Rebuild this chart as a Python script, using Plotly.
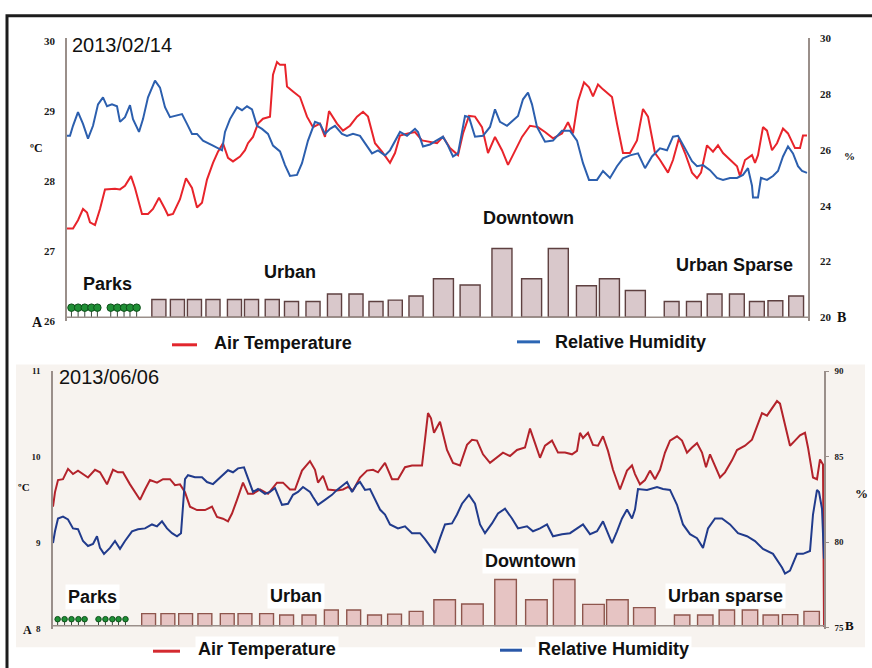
import plotly.graph_objects as go

# ---------------------------------------------------------------------------
# Mobile transect records: (elapsed seconds along the route, value)
# ---------------------------------------------------------------------------
FEB_AIR_TEMP = [
    (0, 27.32), (6, 27.32), (11, 27.44), (16, 27.60), (20, 27.55), (23, 27.41), (28, 27.37),
    (33, 27.60), (38, 27.88), (48, 27.89), (53, 27.88), (58, 27.93), (64, 28.07), (68, 27.90),
    (75, 27.53), (81, 27.53), (86, 27.60), (92, 27.76), (98, 27.60), (101, 27.51), (106, 27.53),
    (113, 27.74), (119, 28.04), (125, 27.90), (130, 27.62), (135, 27.69), (140, 28.02),
    (146, 28.26), (151, 28.42), (156, 28.54), (161, 28.33), (166, 28.28), (173, 28.35),
    (178, 28.44), (181, 28.54), (186, 28.63), (191, 28.82), (196, 28.89), (203, 28.92),
    (206, 29.52), (210, 29.70), (213, 29.66), (218, 29.66), (220, 29.35), (226, 29.28),
    (233, 29.20), (240, 28.92), (246, 28.77), (253, 28.82), (258, 28.63), (262, 29.00),
    (270, 28.82), (276, 28.72), (283, 28.79), (290, 28.92), (296, 28.99), (301, 28.92),
    (308, 28.54), (315, 28.42), (323, 28.26), (328, 28.40), (333, 28.65), (341, 28.68),
    (348, 28.70), (355, 28.58), (363, 28.56), (370, 28.54), (376, 28.63), (383, 28.47),
    (391, 28.37), (396, 28.68), (402, 28.93), (408, 28.92), (415, 28.77), (421, 28.40),
    (428, 28.63), (435, 28.44), (441, 28.23), (448, 28.44), (455, 28.63), (463, 28.79),
    (471, 28.77), (478, 28.70), (486, 28.61), (495, 28.68), (501, 28.84), (506, 28.68),
    (511, 29.14), (517, 29.41), (522, 29.34), (526, 29.21), (531, 29.38), (536, 29.31),
    (545, 29.20), (550, 28.82), (556, 28.40), (563, 28.40), (570, 28.58), (576, 29.03),
    (581, 28.92), (588, 28.40), (593, 28.30), (601, 28.12), (606, 28.30), (612, 28.61),
    (618, 28.40), (625, 28.12), (630, 28.04), (634, 28.12), (640, 28.51), (646, 28.42),
    (651, 28.51), (656, 28.40), (663, 28.30), (670, 28.21), (673, 28.07), (678, 28.30),
    (685, 28.37), (688, 28.26), (691, 28.37), (696, 28.77), (700, 28.72), (705, 28.44),
    (710, 28.54), (716, 28.75), (721, 28.68), (728, 28.47), (733, 28.47), (736, 28.65),
    (740, 28.65),
]

FEB_HUMIDITY = [
    (0, 26.51), (3, 26.51), (6, 26.87), (11, 27.36), (16, 26.94), (21, 26.41), (26, 26.87),
    (31, 27.64), (36, 27.89), (40, 27.57), (45, 27.64), (50, 27.57), (53, 27.01), (58, 27.18),
    (63, 27.61), (66, 27.11), (72, 26.65), (76, 27.11), (81, 27.89), (88, 28.49), (93, 28.24),
    (98, 27.54), (103, 27.18), (108, 27.22), (115, 27.29), (120, 26.94), (125, 26.58),
    (130, 26.58), (136, 26.34), (146, 26.16), (155, 25.99), (158, 26.65), (163, 27.11),
    (170, 27.54), (175, 27.43), (180, 27.57), (185, 27.46), (190, 26.87), (195, 26.76),
    (201, 26.58), (206, 26.16), (213, 25.95), (218, 25.46), (223, 25.07), (230, 25.11),
    (235, 25.53), (241, 26.34), (248, 27.01), (253, 26.94), (258, 26.58), (263, 26.76),
    (268, 26.87), (275, 26.58), (280, 26.51), (286, 26.58), (293, 26.51), (298, 26.23),
    (305, 25.88), (311, 25.99), (318, 25.81), (323, 25.99), (328, 26.34), (333, 26.65),
    (340, 26.51), (348, 26.76), (351, 26.65), (356, 26.13), (363, 26.20), (370, 26.34),
    (376, 26.48), (381, 26.16), (386, 25.77), (391, 25.88), (398, 27.22), (402, 27.18),
    (408, 26.48), (416, 26.51), (423, 26.83), (428, 27.46), (433, 27.01), (440, 26.87),
    (445, 27.04), (451, 27.22), (456, 27.82), (461, 28.06), (465, 27.64), (470, 26.83),
    (478, 26.30), (486, 26.34), (495, 26.69), (503, 26.69), (510, 26.34), (516, 25.53),
    (522, 24.93), (530, 24.93), (536, 25.25), (543, 25.00), (550, 25.42), (556, 25.70),
    (563, 25.81), (571, 25.88), (578, 25.35), (585, 25.77), (593, 26.06), (600, 25.99),
    (606, 26.48), (611, 26.51), (618, 26.06), (625, 25.60), (630, 25.42), (636, 25.46),
    (643, 25.28), (650, 25.00), (656, 24.93), (663, 25.00), (670, 25.00), (676, 25.11),
    (681, 25.35), (685, 24.72), (686, 24.30), (691, 24.30), (694, 25.00), (700, 24.93),
    (706, 25.07), (711, 25.25), (716, 25.77), (721, 26.13), (726, 25.88), (731, 25.42),
    (735, 25.25), (740, 25.18),
]

JUN_AIR_TEMP = [
    (0, 9.42), (2, 9.59), (5, 9.73), (10, 9.74), (15, 9.86), (20, 9.80), (25, 9.84), (30, 9.80),
    (35, 9.76), (42, 9.85), (47, 9.82), (54, 9.68), (60, 9.85), (65, 9.82), (70, 9.82),
    (77, 9.68), (82, 9.59), (87, 9.50), (92, 9.62), (97, 9.73), (104, 9.70), (110, 9.74),
    (117, 9.74), (122, 9.67), (127, 9.68), (132, 9.59), (137, 9.42), (144, 9.38), (152, 9.38),
    (159, 9.42), (164, 9.30), (170, 9.28), (175, 9.25), (179, 9.34), (184, 9.50), (190, 9.70),
    (195, 9.57), (200, 9.57), (207, 9.62), (215, 9.57), (224, 9.70), (230, 9.70), (237, 9.62),
    (242, 9.62), (249, 9.84), (257, 9.95), (262, 9.85), (265, 9.70), (270, 9.78), (275, 9.62),
    (284, 9.61), (290, 9.62), (295, 9.65), (300, 9.61), (307, 9.76), (314, 9.84), (320, 9.85),
    (325, 9.82), (332, 9.93), (339, 9.74), (345, 9.74), (352, 9.88), (359, 9.90), (369, 9.90),
    (372, 10.20), (375, 10.51), (378, 10.45), (381, 10.28), (387, 10.41), (394, 10.08),
    (400, 9.93), (407, 9.90), (414, 10.14), (419, 10.20), (424, 10.19), (430, 10.03),
    (437, 9.93), (444, 9.99), (450, 10.05), (457, 10.01), (464, 10.08), (472, 10.11),
    (477, 10.33), (482, 10.16), (487, 9.99), (492, 10.13), (499, 10.19), (505, 10.05),
    (512, 10.05), (519, 10.03), (524, 10.07), (527, 10.28), (530, 10.22), (535, 10.28),
    (540, 10.14), (545, 10.13), (550, 10.24), (555, 10.07), (560, 9.85), (567, 9.62),
    (574, 9.84), (579, 9.90), (582, 9.80), (587, 9.68), (592, 9.73), (597, 9.84), (602, 9.74),
    (607, 9.85), (612, 10.05), (617, 10.19), (624, 10.24), (629, 10.19), (634, 10.05),
    (639, 10.11), (644, 10.16), (649, 10.05), (653, 9.88), (657, 10.03), (662, 9.90),
    (667, 9.76), (672, 9.82), (679, 9.96), (684, 10.08), (692, 10.13), (699, 10.20),
    (704, 10.36), (709, 10.51), (714, 10.48), (719, 10.56), (724, 10.65), (727, 10.62),
    (732, 10.39), (737, 10.13), (742, 10.19), (747, 10.25), (752, 10.28), (755, 10.11),
    (760, 9.76), (764, 9.74), (767, 9.97), (770, 9.91), (771, 8.02),
]

JUN_HUMIDITY = [
    (0, 79.94), (2, 80.63), (5, 81.38), (10, 81.49), (15, 81.32), (20, 80.80), (25, 80.75),
    (30, 80.06), (35, 79.77), (40, 79.89), (44, 80.34), (47, 79.66), (51, 79.31), (57, 79.66),
    (62, 80.06), (67, 79.60), (72, 80.06), (79, 80.63), (85, 80.75), (92, 80.80), (99, 81.03),
    (104, 80.92), (109, 81.21), (114, 80.80), (119, 80.52), (124, 80.34), (128, 80.52),
    (132, 83.68), (135, 83.91), (142, 83.79), (149, 83.79), (154, 83.51), (160, 83.39),
    (165, 83.68), (170, 83.97), (175, 84.20), (180, 84.08), (185, 84.31), (191, 84.37),
    (197, 83.33), (200, 82.93), (205, 83.10), (212, 82.82), (217, 82.93), (222, 83.16),
    (229, 82.18), (235, 82.24), (240, 82.76), (245, 82.93), (250, 83.22), (257, 82.93),
    (260, 82.64), (265, 82.18), (272, 82.47), (279, 82.76), (284, 83.05), (290, 83.33),
    (294, 83.51), (299, 82.93), (304, 83.39), (307, 83.51), (312, 83.05), (317, 83.10),
    (322, 82.53), (327, 81.90), (332, 81.61), (337, 81.03), (345, 80.80), (352, 80.92),
    (359, 80.52), (367, 80.52), (372, 80.17), (377, 79.77), (382, 79.37), (387, 80.23),
    (392, 81.03), (399, 81.09), (404, 81.61), (409, 82.24), (416, 82.76), (422, 82.24),
    (427, 81.03), (432, 80.52), (439, 81.09), (445, 81.67), (452, 81.95), (459, 81.38),
    (465, 80.80), (474, 80.92), (480, 80.63), (487, 80.80), (494, 81.03), (500, 80.34),
    (509, 80.46), (517, 80.52), (524, 80.80), (530, 81.03), (537, 80.46), (544, 80.63),
    (550, 81.21), (555, 80.52), (559, 79.94), (564, 80.63), (569, 81.38), (574, 81.90),
    (579, 81.38), (582, 81.90), (585, 83.10), (594, 83.05), (604, 83.22), (610, 83.10),
    (617, 83.05), (624, 82.18), (630, 81.03), (637, 80.46), (644, 80.23), (650, 79.66),
    (655, 80.80), (662, 81.38), (669, 81.38), (677, 81.03), (685, 80.52), (694, 80.34),
    (702, 80.06), (710, 79.60), (720, 79.31), (729, 78.51), (732, 78.16), (737, 78.33),
    (744, 79.31), (750, 79.31), (757, 79.48), (760, 81.61), (764, 83.05), (766, 82.93),
    (769, 81.95), (771, 79.02),
]

# ---------------------------------------------------------------------------
# Land use along the route (position in % of route length, relative height)
# ---------------------------------------------------------------------------
PARK_TREE_POS = [0.6, 1.5, 2.4, 3.3, 4.1, 5.9, 6.8, 7.7, 8.5, 9.4]
PARK_TREE_HEIGHT = [14] * 10

URBAN_POS = [12.4, 14.9, 17.2, 19.7, 22.6, 24.9, 27.7, 30.3, 33.2, 36.1, 39.0, 41.7, 44.3, 47.1]
URBAN_HEIGHT = [26, 26, 26, 26, 26, 26, 26, 23, 23, 34, 34, 23, 25, 31]

DOWNTOWN_POS = [50.8, 54.4, 58.7, 62.7, 66.3, 70.1, 73.2, 76.7]
DOWNTOWN_HEIGHT = [56, 47, 100, 56, 100, 46, 56, 39]

SPARSE_POS = [81.6, 84.6, 87.4, 90.4, 93.1, 95.6, 98.4]
SPARSE_HEIGHT = [23, 23, 34, 34, 23, 24, 31]

FEB_T_TICKS = [26, 27, 28, 29, 30]
FEB_RH_TICKS = [20, 22, 24, 26, 28, 30]
FEB_RH_MINOR = [20, 22.5, 25, 27.5, 30]
JUN_T_TICKS = [8, 9, 10, 11]
JUN_RH_TICKS = [75, 80, 85, 90]

# ---------------------------------------------------------------------------
W, H = 872, 668


def px(x):
    return x / W


def py(y):
    return 1 - y / H


SANS = "Liberation Sans, Arial, sans-serif"
SERIF = "Liberation Serif, Times New Roman, serif"
AXIS_GREY = "#9a8f8a"

fig = go.Figure()

land_pos = URBAN_POS + DOWNTOWN_POS + SPARSE_POS
land_h = URBAN_HEIGHT + DOWNTOWN_HEIGHT + SPARSE_HEIGHT


def widths(u, d, s):
    return [u] * len(URBAN_POS) + [d] * len(DOWNTOWN_POS) + [s] * len(SPARSE_POS)


def add_panel(temp, hum, xa_line, ya_t, ya_h, xa_land, ya_land, style):
    # buildings
    fig.add_trace(go.Bar(
        x=land_pos, y=land_h, width=style["bar_w"],
        xaxis=xa_land, yaxis=ya_land, showlegend=False, hoverinfo="skip",
        marker=dict(color=style["bar_fill"], line=dict(color=style["bar_edge"], width=1.4)),
    ))
    # park trees: crown marker with a stem down to ground level
    fig.add_trace(go.Scatter(
        x=PARK_TREE_POS, y=PARK_TREE_HEIGHT, mode="markers",
        xaxis=xa_land, yaxis=ya_land, showlegend=False, hoverinfo="skip",
        marker=dict(size=style["tree_size"], color="#1f8f35",
                    line=dict(color="#0e4f1a", width=1)),
        error_y=dict(type="data", symmetric=False, array=[0] * len(PARK_TREE_HEIGHT),
                     arrayminus=PARK_TREE_HEIGHT, color="#3b4a3b", thickness=1, width=0),
    ))
    fig.add_trace(go.Scatter(
        x=[p[0] for p in hum], y=[p[1] for p in hum], mode="lines",
        xaxis=xa_line, yaxis=ya_h, name="Relative Humidity", showlegend=False,
        line=dict(color=style["blue"], width=2),
    ))
    fig.add_trace(go.Scatter(
        x=[p[0] for p in temp], y=[p[1] for p in temp], mode="lines",
        xaxis=xa_line, yaxis=ya_t, name="Air Temperature", showlegend=False,
        line=dict(color=style["red"], width=2),
    ))


top_style = dict(bar_fill="#d9c8cb", bar_edge="#5e4040", tree_size=7.5,
                 red="#e8242b", blue="#2c5fae",
                 bar_w=widths(1.9, 2.7, 2.0))
bot_style = dict(bar_fill="#e6c4c3", bar_edge="#8e564d", tree_size=5.5,
                 red="#b3232b", blue="#213b8c",
                 bar_w=widths(1.8, 2.8, 2.0))

add_panel(FEB_AIR_TEMP, FEB_HUMIDITY, "x", "y", "y2", "x2", "y3", top_style)
add_panel(JUN_AIR_TEMP, JUN_HUMIDITY, "x3", "y4", "y5", "x4", "y6", bot_style)

top_x = [px(67), px(808)]
top_y = [py(320.7), py(33)]
bot_x = [px(53), px(824)]
bot_y = [py(634), py(371.7)]

FEB_T_RANGE = [26, 30.038]
FEB_RH_RANGE = [19.87, 30.005]

hidden = dict(visible=False, showgrid=False, zeroline=False)


def val_axis(size, standoff, **kw):
    d = dict(showgrid=False, zeroline=False, showline=True, linecolor=AXIS_GREY,
             linewidth=1.5, ticks="", ticklabelstandoff=standoff,
             tickfont=dict(family=SERIF, size=size, color="#1a1a1a", weight="bold"))
    d.update(kw)
    return d


fig.update_layout(
    width=W, height=H,
    margin=dict(l=0, r=0, t=0, b=0),
    paper_bgcolor="white", plot_bgcolor="rgba(0,0,0,0)",
    showlegend=False, barmode="overlay",
    # 14 Feb panel
    xaxis=dict(domain=top_x, range=[0, 741], anchor="y", **hidden),
    yaxis=val_axis(11, 8, domain=top_y, range=FEB_T_RANGE, anchor="x", tickvals=FEB_T_TICKS),
    yaxis2=val_axis(11, 8, overlaying="y", side="right", anchor="x",
                    range=FEB_RH_RANGE, tickvals=FEB_RH_TICKS),
    yaxis7=dict(overlaying="y", side="right", anchor="x", range=FEB_RH_RANGE,
                tickvals=FEB_RH_MINOR, ticks="outside", ticklen=4, tickcolor=AXIS_GREY,
                showticklabels=False, showline=False, showgrid=False, zeroline=False),
    xaxis2=dict(overlaying="x", range=[0, 100], anchor="y3", **hidden),
    yaxis3=dict(overlaying="y", range=[-5.3, 405.7], anchor="x2", **hidden),
    # 06 Jun panel
    xaxis3=dict(domain=bot_x, range=[0, 771], anchor="y4", **hidden),
    yaxis4=val_axis(9, 9, domain=bot_y, range=[8, 11], anchor="x3", tickvals=JUN_T_TICKS),
    yaxis5=val_axis(9, 4, overlaying="y4", side="right", anchor="x3",
                    range=[74.94, 90], tickvals=JUN_RH_TICKS,
                    ticks="outside", ticklen=3, tickcolor=AXIS_GREY),
    xaxis4=dict(overlaying="x3", range=[0, 100], anchor="y6", **hidden),
    yaxis6=dict(overlaying="y4", range=[-6.4, 551.7], anchor="x4", **hidden),
)

shapes = [
    # tinted background of the June panel
    dict(type="rect", xref="paper", yref="paper", x0=px(16), x1=px(865),
         y0=py(653), y1=py(365), fillcolor="#f7f3ef", line=dict(width=0), layer="below"),
    # ground lines
    dict(type="line", xref="paper", yref="y3", x0=top_x[0], x1=top_x[1], y0=0, y1=0,
         line=dict(color=AXIS_GREY, width=1.5)),
    dict(type="line", xref="paper", yref="y6", x0=bot_x[0], x1=bot_x[1], y0=0, y1=0,
         line=dict(color=AXIS_GREY, width=1.5)),
    # legend keys
    dict(type="line", xref="paper", yref="paper", x0=px(172), x1=px(197), y0=py(345), y1=py(345),
         line=dict(color="#e2262d", width=3)),
    dict(type="line", xref="paper", yref="paper", x0=px(517), x1=px(540), y0=py(342), y1=py(342),
         line=dict(color="#2c66b4", width=3)),
    dict(type="line", xref="paper", yref="paper", x0=px(153), x1=px(180), y0=py(657), y1=py(657),
         line=dict(color="#d42a30", width=3)),
    dict(type="line", xref="paper", yref="paper", x0=px(500), x1=px(522), y0=py(656), y1=py(656),
         line=dict(color="#2a58a8", width=3)),
    # outer frame
    dict(type="rect", xref="paper", yref="paper", x0=px(7), x1=1.05, y0=-0.05, y1=py(10),
         line=dict(color="#1c1c1c", width=3), fillcolor="rgba(0,0,0,0)"),
]

annotations = []


def note(text, x, y, size, family=SANS, bold=True, xanchor="center", bg=None, color="#111111"):
    a = dict(text=text, x=px(x), y=py(y), xref="paper", yref="paper", showarrow=False,
             xanchor=xanchor, yanchor="middle",
             font=dict(family=family, size=size, color=color, weight="bold" if bold else "normal"))
    if bg:
        a.update(bgcolor=bg, borderpad=2)
    annotations.append(a)


# 14 Feb panel text
note("2013/02/14", 70, 40, 20, bold=False, xanchor="left")
note("ºC", 36, 145, 12, family=SERIF)
note("%", 849, 153, 11, family=SERIF)
note("A", 37, 322, 14, family=SERIF)
note("B", 841, 317, 14, family=SERIF)
note("Parks", 107, 283, 18)
note("Urban", 290, 271, 18)
note("Downtown", 528, 216, 18)
note("Urban Sparse", 734, 264, 18)
note("Air Temperature", 212, 343, 18, xanchor="left")
note("Relative Humidity", 553, 342, 18, xanchor="left")

# 06 Jun panel text
note("2013/06/06", 57, 378, 20, bold=False, xanchor="left")
note("ºC", 24, 490, 11, family=SERIF)
note("%", 861, 496, 13, family=SERIF)
note("A", 27, 635, 12, family=SERIF)
note("B", 849, 631, 13, family=SERIF)
note("Parks", 92, 602, 18, bg="white")
note("Urban", 296, 601, 18, bg="white")
note("Downtown", 530, 565, 18, bg="white")
note("Urban sparse", 725, 601, 18, bg="white")
note("Air Temperature", 195, 655, 18, xanchor="left", bg="white")
note("Relative Humidity", 535, 655, 18, xanchor="left", bg="white")

fig.update_layout(shapes=shapes, annotations=annotations)
fig.write_html("out.html")
